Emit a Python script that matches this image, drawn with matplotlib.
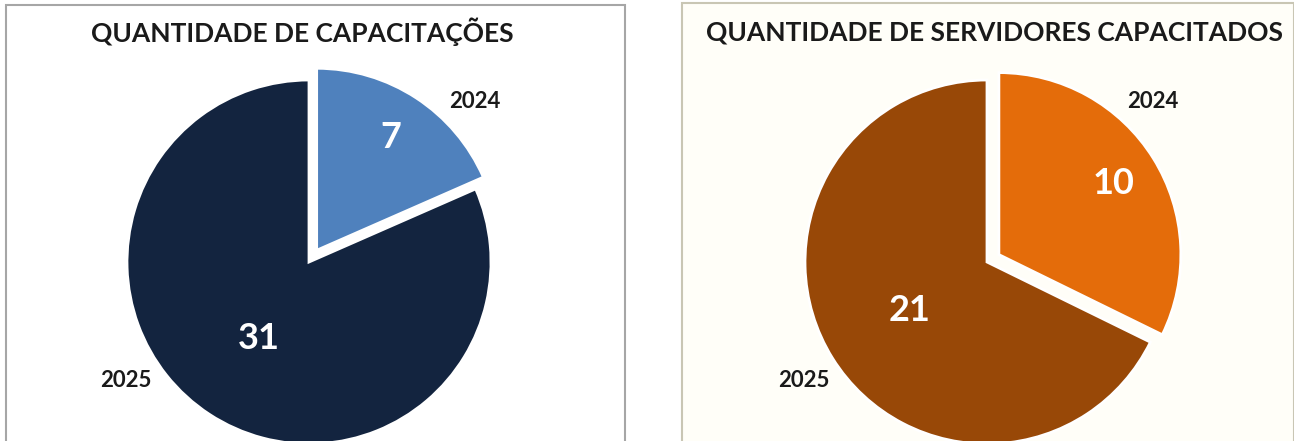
import numpy as np
import matplotlib.pyplot as plt
from matplotlib.patches import Rectangle

plt.rcParams['font.family'] = ['Lato', 'DejaVu Sans']

# dados
anos = ['2024', '2025']
capacitacoes = [7, 31]
servidores = [10, 21]

titulos = ['QUANTIDADE DE CAPACITAÇÕES', 'QUANTIDADE DE SERVIDORES CAPACITADOS']
cores_esq = ['#4f81bd', '#13243f']
cores_dir = ['#e46c0a', '#984807']

W, H = 1294, 441
R = 182
fig = plt.figure(figsize=(W / 100, H / 100), dpi=100)
ax = fig.add_axes([0, 0, 1, 1])

# molduras dos dois graficos
ax.add_patch(Rectangle((6, -5), 619, 441, facecolor='white', edgecolor='#a6a6a6', lw=1.5))
ax.add_patch(Rectangle((682, -5), 612, 443, facecolor='#fffef8', edgecolor='#c9c6b4', lw=1.5))


def pizza(valores, cores, cx, titulo, tx):
    cy = 179
    wedges, labels = ax.pie(
        valores, labels=anos, colors=cores, startangle=90, counterclock=False,
        explode=[14, 0], center=(cx, cy), radius=R, frame=True,
        wedgeprops=dict(edgecolor='white', linewidth=2),
        textprops=dict(fontsize=16, fontweight='bold', color='#1a1a1a'))
    # rotulos dos anos fora da pizza (angulo a partir do topo, sentido horario)
    for t, ang, dist in zip(labels, [46, 237], [1.27, 1.2]):
        a = np.radians(ang)
        t.set_position((cx + dist * R * np.sin(a), cy + dist * R * np.cos(a)))
        t.set_ha('center')
        t.set_va('center')
    # valores dentro das fatias
    for w, v, dist in zip(wedges, valores, [0.74, 0.5]):
        a = np.radians((w.theta1 + w.theta2) / 2)
        x0, y0 = w.center
        ax.text(x0 + dist * R * np.cos(a), y0 + dist * R * np.sin(a), str(v),
                ha='center', va='center', color='white', fontsize=26, fontweight='bold')
    ax.text(tx, 409, titulo, ha='center', va='center', fontsize=19,
            fontweight='bold', color='#1a1a1a')


pizza(capacitacoes, cores_esq, 309, titulos[0], 302)
pizza(servidores, cores_dir, 987, titulos[1], 995)

ax.set_xlim(0, W)
ax.set_ylim(0, H)
ax.set_aspect('auto')
ax.axis('off')

fig.savefig('out.png', dpi=100)
